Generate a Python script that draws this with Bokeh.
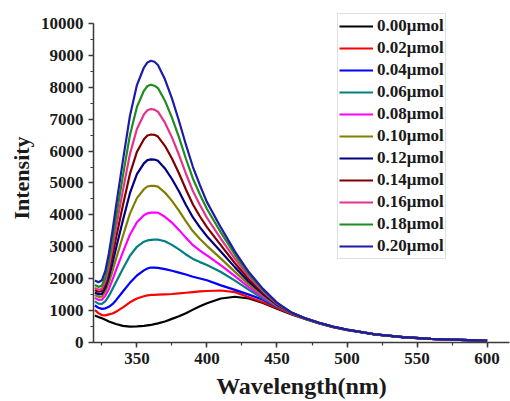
from bokeh.plotting import figure
from bokeh.models import Range1d, SingleIntervalTicker, Legend, LegendItem, ColumnDataSource
from bokeh.embed import file_html
from bokeh.resources import INLINE

wavelength = [320, 322.5, 325, 327.5, 330, 332.5, 335, 340, 345, 350, 355, 357.5, 360, 362.5, 365,
              370, 375, 380, 385, 390, 395, 400, 410, 420, 430, 440, 450, 460, 470, 480, 490, 500,
              520, 540, 560, 580, 600]

labels = ["0.00\u03bcmol", "0.02\u03bcmol", "0.04\u03bcmol", "0.06\u03bcmol", "0.08\u03bcmol",
          "0.10\u03bcmol", "0.12\u03bcmol", "0.14\u03bcmol", "0.16\u03bcmol", "0.18\u03bcmol",
          "0.20\u03bcmol"]

i_000 = [845, 800, 760, 710, 660, 620, 580, 520, 500, 505, 520, 535, 550, 575, 600,
         660, 740, 820, 920, 1030, 1135, 1230, 1380, 1435, 1380, 1240, 1060, 890, 740, 600, 480, 390,
         250, 160, 110, 80, 60]
i_002 = [1020, 920, 860, 850, 880, 910, 960, 1100, 1260, 1380, 1450, 1475, 1490, 1495, 1500,
         1510, 1520, 1540, 1560, 1580, 1600, 1615, 1630, 1580, 1420, 1260, 1080, 900, 750, 610, 490, 400,
         255, 165, 112, 82, 62]
i_004 = [1160, 1090, 1055, 1070, 1120, 1200, 1320, 1600, 1870, 2100, 2260, 2320, 2350, 2350, 2340,
         2300, 2250, 2190, 2130, 2060, 2005, 1950, 1790, 1650, 1500, 1340, 1120, 930, 760, 615, 495, 400,
         257, 167, 113, 83, 63]
i_006 = [1290, 1220, 1210, 1300, 1460, 1670, 1890, 2310, 2720, 3000, 3160, 3200, 3215, 3225, 3225,
         3175, 3060, 2920, 2760, 2620, 2520, 2430, 2210, 1940, 1650, 1380, 1130, 915, 755, 612, 492, 400,
         256, 166, 113, 82, 62]
i_008 = [1400, 1335, 1340, 1470, 1680, 1960, 2260, 2830, 3380, 3770, 3990, 4050, 4070, 4075, 4070,
         3940, 3760, 3530, 3280, 3050, 2880, 2730, 2420, 2080, 1730, 1430, 1150, 920, 755, 612, 492, 400,
         256, 166, 113, 82, 62]
i_010 = [1490, 1430, 1440, 1610, 1875, 2230, 2605, 3340, 4040, 4525, 4805, 4890, 4910, 4910, 4885,
         4700, 4440, 4135, 3795, 3485, 3245, 3030, 2630, 2215, 1815, 1475, 1165, 925, 755, 612, 492, 400,
         256, 166, 113, 82, 62]
i_012 = [1570, 1510, 1525, 1720, 2050, 2480, 2940, 3830, 4680, 5275, 5615, 5715, 5740, 5735, 5695,
         5455, 5125, 4740, 4310, 3920, 3610, 3330, 2845, 2355, 1900, 1520, 1185, 930, 757, 613, 493, 400,
         257, 167, 113, 82, 62]
i_014 = [1645, 1590, 1610, 1830, 2220, 2720, 3260, 4300, 5285, 5975, 6370, 6490, 6520, 6510, 6455,
         6165, 5765, 5305, 4795, 4325, 3950, 3615, 3045, 2485, 1980, 1560, 1205, 935, 758, 614, 494, 400,
         257, 167, 113, 82, 62]
i_016 = [1710, 1655, 1680, 1930, 2385, 2960, 3580, 4770, 5905, 6695, 7150, 7280, 7320, 7300, 7235,
         6890, 6430, 5885, 5290, 4745, 4310, 3910, 3250, 2625, 2060, 1605, 1220, 940, 759, 615, 495, 401,
         258, 167, 113, 83, 62]
i_018 = [1800, 1745, 1780, 2060, 2565, 3200, 3895, 5225, 6495, 7385, 7890, 8040, 8080, 8050, 7975,
         7580, 7050, 6435, 5760, 5135, 4640, 4185, 3445, 2750, 2135, 1645, 1240, 945, 760, 616, 496, 401,
         258, 168, 114, 83, 63]
i_020 = [1940, 1890, 1950, 2250, 2800, 3480, 4250, 5700, 7100, 8070, 8620, 8780, 8830, 8800, 8700,
         8250, 7650, 6950, 6200, 5500, 4930, 4400, 3600, 2850, 2200, 1680, 1250, 950, 762, 618, 497, 402,
         259, 168, 114, 84, 63]

series = [i_000, i_002, i_004, i_006, i_008, i_010, i_012, i_014, i_016, i_018, i_020]
colors = ["#000000", "#FF0000", "#0000FF", "#008080", "#FF00FF", "#808000",
          "#000080", "#800000", "#E6338A", "#1E8C1E", "#1C1CA8"]

data = {"wl": wavelength}
for k, s in enumerate(series):
    data["s%d" % k] = s
src = ColumnDataSource(data)

FONT = "Liberation Serif"

p = figure(width=510, height=401, output_backend="svg", toolbar_location=None,
           x_range=Range1d(319, 616), y_range=Range1d(0, 10313),
           min_border_left=93, min_border_right=1, min_border_top=13, min_border_bottom=59)
p.outline_line_color = None
p.grid.visible = False
p.background_fill_color = "white"
p.border_fill_color = "white"

p.xaxis.ticker = SingleIntervalTicker(interval=50, num_minor_ticks=2)
p.yaxis.ticker = SingleIntervalTicker(interval=1000, num_minor_ticks=2)
p.yaxis.bounds = (0, 10000)
p.xaxis.axis_label = "Wavelength(nm)"
p.yaxis.axis_label = "Intensity"

for ax in (p.xaxis[0], p.yaxis[0]):
    ax.axis_line_color = "#3a3a3a"
    ax.axis_line_width = 1.5
    ax.major_tick_line_color = "#3a3a3a"
    ax.minor_tick_line_color = "#3a3a3a"
    ax.major_tick_line_width = 1.5
    ax.minor_tick_line_width = 1.2
    ax.major_tick_out = 5
    ax.major_tick_in = 0
    ax.minor_tick_out = 3
    ax.minor_tick_in = 0
    ax.major_label_text_font = FONT
    ax.major_label_text_font_style = "bold"
    ax.major_label_text_font_size = "17px"
    ax.major_label_text_color = "#1a1a1a"
    ax.major_label_standoff = 5
    ax.axis_label_text_font = FONT
    ax.axis_label_text_font_style = "bold"
    ax.axis_label_text_color = "#1a1a1a"

p.xaxis[0].axis_label_text_font_size = "24px"
p.xaxis[0].axis_label_standoff = 6
p.yaxis[0].axis_label_text_font_size = "22px"
p.yaxis[0].axis_label_standoff = 4

items = []
for k in range(len(series)):
    r = p.line("wl", "s%d" % k, source=src, line_color=colors[k], line_width=2.2,
               line_join="round")
    items.append(LegendItem(label=labels[k], renderers=[r]))

legend = Legend(items=items, location=(244, 83))
legend.label_text_font = FONT
legend.label_text_font_style = "bold"
legend.label_text_font_size = "17px"
legend.label_text_color = "#1a1a1a"
legend.glyph_width = 34
legend.glyph_height = 22
legend.label_height = 22
legend.label_standoff = 4
legend.spacing = 0
legend.padding = 1
legend.margin = 0
legend.border_line_color = "#bfbfbf"
legend.border_line_width = 1
legend.background_fill_color = "white"
legend.background_fill_alpha = 1
p.add_layout(legend)

open("out.html", "w").write(file_html(p, INLINE))
